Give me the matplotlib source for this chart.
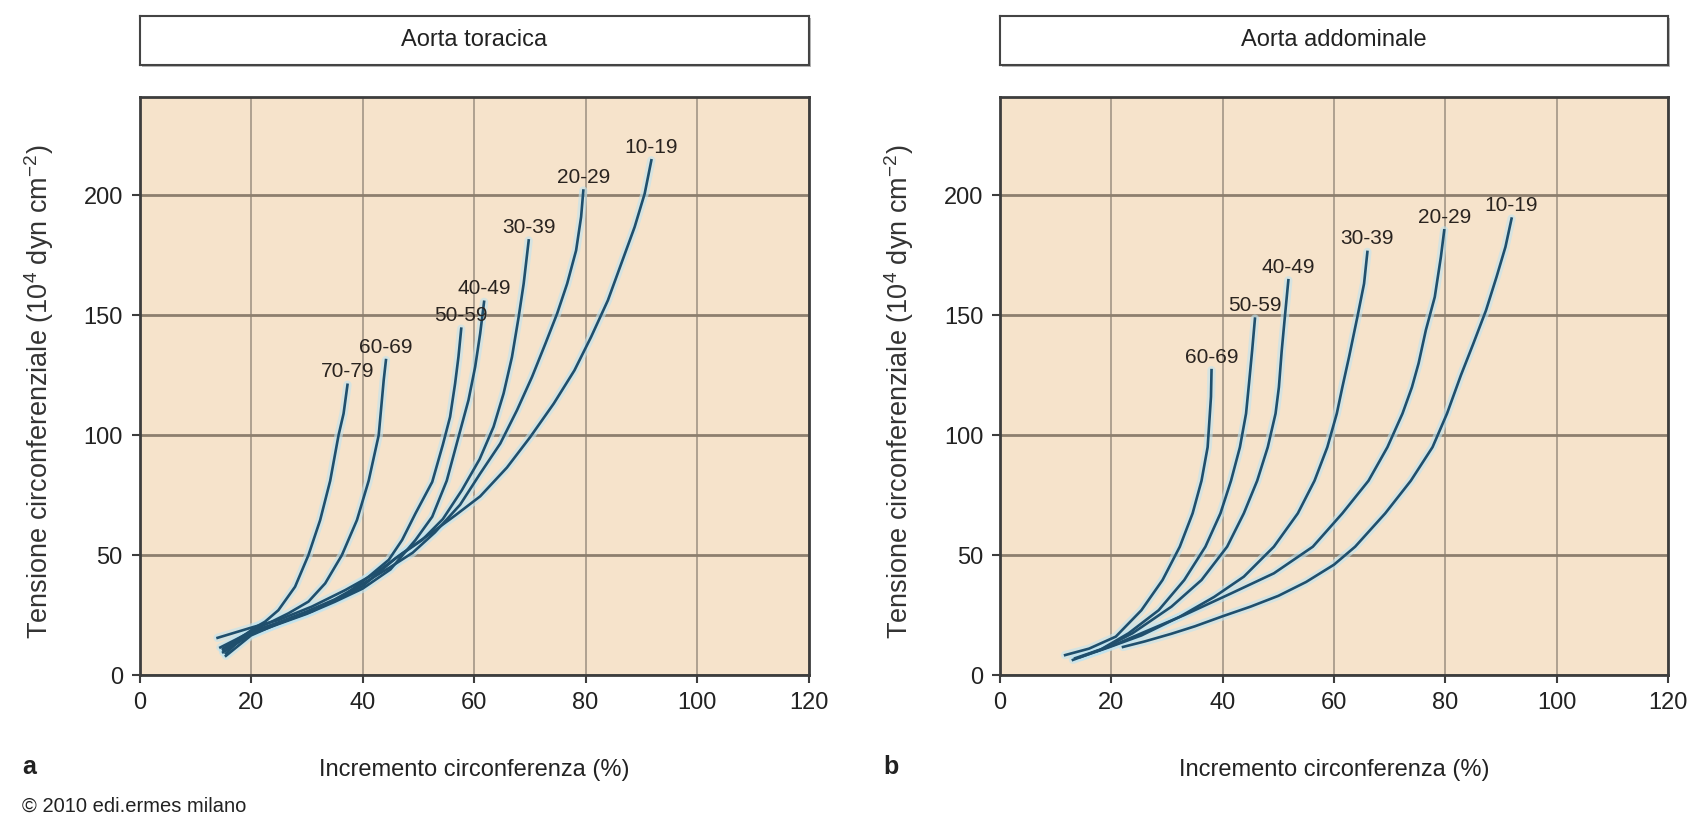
import numpy as np
import matplotlib.pyplot as plt

plt.rcParams['mathtext.fontset'] = 'custom'
plt.rcParams['mathtext.rm'] = 'Liberation Sans'
plt.rcParams['mathtext.it'] = 'Liberation Sans'

FONT = ['Liberation Sans', 'DejaVu Sans']

# Aorta toracica: (x = incremento %, y = tensione)
tor_labels = ['10-19', '20-29', '30-39', '40-49', '50-59', '60-69', '70-79']
tor_x = [
    [14.0, 20.4, 24.9, 30.9, 36.9, 42.3, 47.1, 51.9, 56.6, 61.1, 65.9, 70.1, 74.3, 78.0, 81.0, 84.0, 86.4, 88.8, 90.6, 91.8],
    [14.5, 20.0, 25.0, 30.0, 35.0, 40.0, 45.0, 49.0, 53.0, 57.5, 61.1, 64.7, 67.7, 70.4, 72.8, 74.9, 76.7, 78.3, 79.2, 79.6],
    [15.0, 20.0, 25.0, 30.0, 35.0, 40.0, 45.9, 50.7, 54.4, 57.8, 61.0, 63.5, 65.3, 66.8, 68.0, 68.9, 69.8],
    [15.0, 20.0, 25.0, 30.0, 35.0, 40.0, 45.0, 49.5, 52.5, 55.1, 57.3, 59.0, 60.2, 61.1, 61.8],
    [15.5, 20.0, 24.9, 30.9, 36.9, 41.1, 44.7, 47.1, 49.5, 52.5, 54.4, 55.7, 56.6, 57.2, 57.7],
    [15.0, 20.0, 23.5, 26.7, 30.3, 33.3, 36.3, 39.0, 41.1, 42.9, 43.8, 44.2],
    [15.5, 18.0, 20.4, 22.5, 24.9, 27.9, 30.3, 32.4, 34.2, 35.7, 36.6, 37.3],
]
tor_y = [
    [15.5, 20.0, 22.9, 28.5, 35.4, 42.4, 50.7, 58.5, 66.5, 74.5, 86.5, 99.3, 113.2, 127.0, 141.0, 156.2, 171.5, 186.8, 200.7, 214.6],
    [11.5, 18.0, 22.0, 26.5, 31.5, 38.0, 45.0, 51.0, 59.5, 71.0, 84.0, 96.5, 110.4, 124.3, 138.2, 150.7, 163.2, 177.0, 191.0, 202.0],
    [10.5, 17.5, 21.5, 26.0, 31.0, 37.0, 48.6, 56.3, 65.0, 77.0, 90.0, 103.5, 117.4, 132.6, 149.3, 163.2, 181.2],
    [9.5, 17.0, 21.3, 25.5, 30.5, 36.0, 44.0, 56.3, 66.0, 81.0, 100.0, 114.6, 128.5, 142.4, 155.6],
    [8.0, 16.5, 21.5, 26.5, 33.5, 41.0, 48.0, 56.3, 67.4, 80.5, 96.0, 107.6, 121.5, 132.6, 144.4],
    [11.0, 18.5, 22.0, 25.7, 30.6, 38.2, 50.0, 64.6, 81.0, 100.0, 123.0, 131.3],
    [9.0, 14.5, 19.4, 22.2, 27.0, 36.8, 50.0, 64.6, 81.0, 100.0, 109.0, 121.0],
]

# Aorta addominale
add_labels = ['10-19', '20-29', '30-39', '40-49', '50-59', '60-69']
add_x = [
    [22.1, 26.0, 30.8, 35.0, 40.0, 45.0, 50.0, 55.0, 60.0, 63.8, 69.2, 73.8, 77.7, 80.3, 82.8, 85.0, 87.3, 89.2, 90.8, 91.9],
    [17.5, 21.0, 25.4, 33.1, 41.5, 49.2, 56.2, 61.5, 66.2, 69.6, 72.3, 74.0, 75.2, 76.5, 78.1, 79.2, 79.8],
    [14.5, 19.5, 25.4, 32.3, 38.5, 43.8, 49.2, 53.5, 56.5, 58.8, 60.5, 61.5, 62.7, 64.2, 65.4, 66.0],
    [13.5, 18.5, 23.8, 30.8, 36.2, 40.8, 43.8, 46.2, 48.1, 49.5, 50.1, 50.6, 51.2, 51.8],
    [13.1, 18.0, 23.1, 28.5, 33.1, 36.9, 39.6, 41.5, 43.1, 44.2, 44.75, 45.3, 45.8],
    [11.7, 16.0, 20.8, 25.4, 29.2, 32.3, 34.6, 36.2, 37.3, 37.7, 37.9, 38.0],
]
add_y = [
    [11.7, 14.0, 17.2, 20.3, 24.5, 28.5, 33.0, 38.8, 46.0, 53.5, 67.4, 81.0, 95.0, 109.0, 125.0, 138.0, 152.0, 166.0, 178.5, 190.3],
    [10.0, 13.0, 17.4, 25.0, 34.0, 42.4, 53.5, 67.4, 81.0, 95.0, 109.0, 120.0, 130.0, 143.8, 157.6, 174.3, 185.4],
    [7.5, 11.5, 16.5, 24.3, 32.6, 41.0, 53.5, 67.4, 81.0, 95.0, 109.0, 120.0, 132.6, 149.3, 163.2, 176.4],
    [7.0, 11.0, 17.4, 28.5, 39.6, 53.5, 67.4, 81.0, 95.0, 109.0, 120.0, 135.0, 150.0, 164.6],
    [6.3, 10.5, 17.4, 27.0, 39.6, 53.5, 67.4, 81.0, 95.0, 109.0, 122.0, 135.4, 148.6],
    [8.3, 11.0, 16.0, 27.0, 39.6, 53.5, 67.4, 81.0, 95.0, 109.0, 116.0, 127.1],
]

x_ticks = [0, 20, 40, 60, 80, 100, 120]
y_ticks = [0, 50, 100, 150, 200]

W, H = 1695, 824
fig = plt.figure(figsize=(W / 100, H / 100), dpi=100)
fig.patch.set_facecolor('white')

LINE = '#1f4f6d'
GLOW = '#bfe4f1'
BG = '#f6e3cb'


def fx(px):
    return px / W


def fy(py):
    return 1 - py / H


def panel(x0, x1, titolo, labels, xs, ys, lettera):
    top, bot = 97, 675
    ax = fig.add_axes([fx(x0), fy(bot), fx(x1 - x0), (bot - top) / H])
    ax.set_facecolor(BG)
    ax.set_xlim(0, 120)
    ax.set_ylim(0, 241)
    ax.set_xticks(x_ticks)
    ax.set_yticks(y_ticks)
    ax.grid(axis='y', color='#8d7f6e', lw=2.0)
    ax.grid(axis='x', color='#9b8f80', lw=1.1)
    ax.set_axisbelow(True)
    for s in ax.spines.values():
        s.set_color('#3d3d3d')
        s.set_linewidth(2)
    ax.tick_params(direction='out', length=6, width=1.5, color='#3d3d3d',
                   pad=6, labelsize=17, labelcolor='#222222')
    for t in ax.get_xticklabels() + ax.get_yticklabels():
        t.set_family(FONT)

    for lab, x, y in zip(labels, xs, ys):
        ax.plot(x, y, color=GLOW, lw=6, alpha=0.6, solid_capstyle='round', zorder=2)
    for lab, x, y in zip(labels, xs, ys):
        ax.plot(x, y, color=LINE, lw=1.9, zorder=3)
        ax.text(x[-1], y[-1] + 1.5, lab, ha='center', va='bottom', fontsize=15,
                family=FONT, color='#2a2420', zorder=4)

    ax.set_ylabel('Tensione circonferenziale (10$^{4}$ dyn cm$^{-2}$)',
                  fontsize=19.5, family=FONT, color='#333333')
    ax.yaxis.set_label_coords(-0.125, 0.49)
    ax.text(0.5, -0.165, 'Incremento circonferenza (%)', transform=ax.transAxes,
            ha='center', va='center', fontsize=17, family=FONT, color='#222222')
    fig.text(fx(x0 - 117), fy(767), lettera, ha='left', va='center', fontsize=18,
             fontweight='bold', family=FONT, color='#222222')

    # riquadro del titolo
    sh = fig.add_axes([fx(x0 + 2), fy(67), fx(x1 - x0), 49 / H])
    sh.set_facecolor('#b8b8b8')
    sh.set_xticks([])
    sh.set_yticks([])
    for s in sh.spines.values():
        s.set_visible(False)
    tb = fig.add_axes([fx(x0), fy(65), fx(x1 - x0), 49 / H])
    tb.set_facecolor('white')
    tb.set_xticks([])
    tb.set_yticks([])
    for s in tb.spines.values():
        s.set_color('#444444')
        s.set_linewidth(1.5)
    tb.text(0.5, 0.5, titolo, ha='center', va='center', fontsize=17,
            family=FONT, color='#222222', transform=tb.transAxes)
    return ax


panel(139.5, 808.6, 'Aorta toracica', tor_labels, tor_x, tor_y, 'a')
panel(1000, 1668, 'Aorta addominale', add_labels, add_x, add_y, 'b')

fig.text(fx(22), fy(806), '© 2010 edi.ermes milano', ha='left', va='center',
         fontsize=14.5, family=FONT, color='#222222')

fig.savefig('out.png', dpi=100)
